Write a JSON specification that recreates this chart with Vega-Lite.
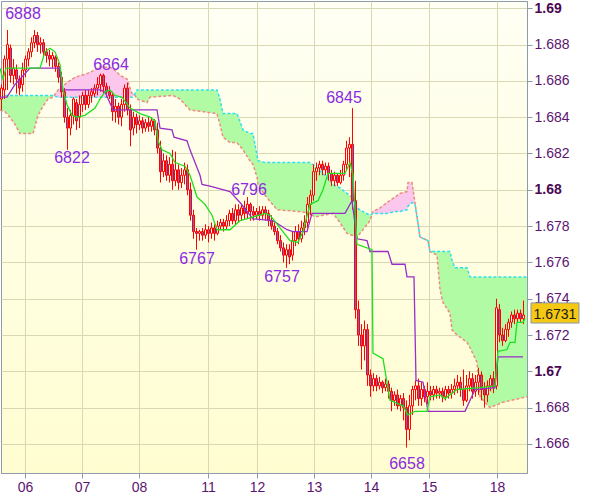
{
"$schema":"https://vega.github.io/schema/vega-lite/v6.json",
"width":526,"height":472,
"autosize":"none",
"padding":{"left":1,"top":1,"right":73,"bottom":24},
"background":"#ffffff",
"config":{
 "view":{"stroke":"#8d9bab","strokeWidth":1,"fill":{"gradient":"linear","x1":0,"y1":0,"x2":0,"y2":1,"stops":[{"offset":0,"color":"#fffff4"},{"offset":1,"color":"#fffdd0"}]}},
 "axis":{"labelFont":"Liberation Sans","labelFontSize":14,"domainColor":"#8d9bab","tickColor":"#8d9bab","tickSize":5,"gridColor":"#d8d8b4","gridWidth":1,"labelOverlap":false,"labelFlush":false}
},
"datasets":{
"candles":[
{"t":0,"o":1.6850,"h":1.6858,"l":1.6844,"c":1.6856},
{"t":1,"o":1.6855,"h":1.6874,"l":1.6850,"c":1.6872},
{"t":2,"o":1.6872,"h":1.6888,"l":1.6855,"c":1.6880},
{"t":3,"o":1.6878,"h":1.6880,"l":1.6859,"c":1.6863},
{"t":4,"o":1.6863,"h":1.6872,"l":1.6858,"c":1.6867},
{"t":5,"o":1.6866,"h":1.6869,"l":1.6853,"c":1.6861},
{"t":6,"o":1.6861,"h":1.6863,"l":1.6852,"c":1.6856},
{"t":7,"o":1.6858,"h":1.6870,"l":1.6854,"c":1.6866},
{"t":8,"o":1.6866,"h":1.6874,"l":1.6862,"c":1.6872},
{"t":9,"o":1.6872,"h":1.6878,"l":1.6868,"c":1.6876},
{"t":10,"o":1.6876,"h":1.6884,"l":1.6873,"c":1.6881},
{"t":11,"o":1.6881,"h":1.6888,"l":1.6878,"c":1.6885},
{"t":12,"o":1.6885,"h":1.6887,"l":1.6876,"c":1.6880},
{"t":13,"o":1.6880,"h":1.6884,"l":1.6875,"c":1.6881},
{"t":14,"o":1.6881,"h":1.6883,"l":1.6873,"c":1.6876},
{"t":15,"o":1.6876,"h":1.6878,"l":1.6870,"c":1.6874},
{"t":16,"o":1.6874,"h":1.6877,"l":1.6868,"c":1.6872},
{"t":17,"o":1.6872,"h":1.6876,"l":1.6867,"c":1.6874},
{"t":18,"o":1.6873,"h":1.6874,"l":1.6865,"c":1.6868},
{"t":19,"o":1.6868,"h":1.6870,"l":1.6859,"c":1.6862},
{"t":20,"o":1.6862,"h":1.6865,"l":1.6851,"c":1.6854},
{"t":21,"o":1.6854,"h":1.6856,"l":1.6837,"c":1.6840},
{"t":22,"o":1.6840,"h":1.6845,"l":1.6822,"c":1.6834},
{"t":23,"o":1.6834,"h":1.6844,"l":1.6830,"c":1.6841},
{"t":24,"o":1.6841,"h":1.6851,"l":1.6836,"c":1.6850},
{"t":25,"o":1.6848,"h":1.6850,"l":1.6833,"c":1.6838},
{"t":26,"o":1.6840,"h":1.6852,"l":1.6834,"c":1.6847},
{"t":27,"o":1.6847,"h":1.6854,"l":1.6843,"c":1.6852},
{"t":28,"o":1.6852,"h":1.6855,"l":1.6844,"c":1.6847},
{"t":29,"o":1.6847,"h":1.6855,"l":1.6845,"c":1.6852},
{"t":30,"o":1.6852,"h":1.6856,"l":1.6848,"c":1.6854},
{"t":31,"o":1.6853,"h":1.6858,"l":1.6851,"c":1.6856},
{"t":32,"o":1.6856,"h":1.6862,"l":1.6852,"c":1.6858},
{"t":33,"o":1.6858,"h":1.6864,"l":1.6854,"c":1.6863},
{"t":34,"o":1.6863,"h":1.6864,"l":1.6853,"c":1.6857},
{"t":35,"o":1.6857,"h":1.6859,"l":1.6851,"c":1.6854},
{"t":36,"o":1.6854,"h":1.6857,"l":1.6850,"c":1.6852},
{"t":37,"o":1.6852,"h":1.6854,"l":1.6838,"c":1.6843},
{"t":38,"o":1.6843,"h":1.6850,"l":1.6837,"c":1.6846},
{"t":39,"o":1.6846,"h":1.6848,"l":1.6836,"c":1.6840},
{"t":40,"o":1.6840,"h":1.6850,"l":1.6835,"c":1.6847},
{"t":41,"o":1.6847,"h":1.6858,"l":1.6843,"c":1.6856},
{"t":42,"o":1.6856,"h":1.6859,"l":1.6841,"c":1.6844},
{"t":43,"o":1.6844,"h":1.6847,"l":1.6824,"c":1.6833},
{"t":44,"o":1.6834,"h":1.6843,"l":1.6830,"c":1.6840},
{"t":45,"o":1.6840,"h":1.6842,"l":1.6831,"c":1.6836},
{"t":46,"o":1.6836,"h":1.6841,"l":1.6833,"c":1.6838},
{"t":47,"o":1.6838,"h":1.6840,"l":1.6831,"c":1.6834},
{"t":48,"o":1.6834,"h":1.6839,"l":1.6832,"c":1.6837},
{"t":49,"o":1.6837,"h":1.6840,"l":1.6832,"c":1.6835},
{"t":50,"o":1.6835,"h":1.6840,"l":1.6832,"c":1.6838},
{"t":51,"o":1.6838,"h":1.6839,"l":1.6830,"c":1.6833},
{"t":52,"o":1.6833,"h":1.6837,"l":1.6820,"c":1.6823},
{"t":53,"o":1.6823,"h":1.6827,"l":1.6804,"c":1.6810},
{"t":54,"o":1.6810,"h":1.6820,"l":1.6807,"c":1.6816},
{"t":55,"o":1.6816,"h":1.6819,"l":1.6805,"c":1.6808},
{"t":56,"o":1.6808,"h":1.6818,"l":1.6804,"c":1.6814},
{"t":57,"o":1.6814,"h":1.6822,"l":1.6800,"c":1.6805},
{"t":58,"o":1.6805,"h":1.6821,"l":1.6802,"c":1.6811},
{"t":59,"o":1.6811,"h":1.6814,"l":1.6800,"c":1.6804},
{"t":60,"o":1.6804,"h":1.6812,"l":1.6801,"c":1.6808},
{"t":61,"o":1.6808,"h":1.6815,"l":1.6803,"c":1.6811},
{"t":62,"o":1.6811,"h":1.6814,"l":1.6797,"c":1.6800},
{"t":63,"o":1.6800,"h":1.6804,"l":1.6783,"c":1.6786},
{"t":64,"o":1.6786,"h":1.6789,"l":1.6773,"c":1.6777},
{"t":65,"o":1.6777,"h":1.6779,"l":1.6767,"c":1.6776},
{"t":66,"o":1.6776,"h":1.6778,"l":1.6772,"c":1.6777},
{"t":67,"o":1.6777,"h":1.6779,"l":1.6772,"c":1.6775},
{"t":68,"o":1.6775,"h":1.6781,"l":1.6773,"c":1.6778},
{"t":69,"o":1.6778,"h":1.6780,"l":1.6771,"c":1.6776},
{"t":70,"o":1.6776,"h":1.6782,"l":1.6773,"c":1.6779},
{"t":71,"o":1.6779,"h":1.6781,"l":1.6772,"c":1.6776},
{"t":72,"o":1.6776,"h":1.6783,"l":1.6775,"c":1.6780},
{"t":73,"o":1.6780,"h":1.6784,"l":1.6778,"c":1.6782},
{"t":74,"o":1.6782,"h":1.6784,"l":1.6777,"c":1.6780},
{"t":75,"o":1.6780,"h":1.6786,"l":1.6778,"c":1.6783},
{"t":76,"o":1.6783,"h":1.6789,"l":1.6780,"c":1.6787},
{"t":77,"o":1.6787,"h":1.6790,"l":1.6781,"c":1.6783},
{"t":78,"o":1.6783,"h":1.6792,"l":1.6781,"c":1.6789},
{"t":79,"o":1.6789,"h":1.6792,"l":1.6782,"c":1.6786},
{"t":80,"o":1.6786,"h":1.6792,"l":1.6783,"c":1.6790},
{"t":81,"o":1.6790,"h":1.6794,"l":1.6784,"c":1.6787},
{"t":82,"o":1.6787,"h":1.6796,"l":1.6784,"c":1.6792},
{"t":83,"o":1.6792,"h":1.6793,"l":1.6783,"c":1.6788},
{"t":84,"o":1.6788,"h":1.6791,"l":1.6783,"c":1.6786},
{"t":85,"o":1.6786,"h":1.6790,"l":1.6784,"c":1.6788},
{"t":86,"o":1.6788,"h":1.6791,"l":1.6783,"c":1.6786},
{"t":87,"o":1.6786,"h":1.6791,"l":1.6784,"c":1.6789},
{"t":88,"o":1.6789,"h":1.6791,"l":1.6783,"c":1.6787},
{"t":89,"o":1.6787,"h":1.6789,"l":1.6780,"c":1.6783},
{"t":90,"o":1.6783,"h":1.6786,"l":1.6778,"c":1.6780},
{"t":91,"o":1.6780,"h":1.6782,"l":1.6775,"c":1.6777},
{"t":92,"o":1.6777,"h":1.6779,"l":1.6770,"c":1.6772},
{"t":93,"o":1.6772,"h":1.6775,"l":1.6766,"c":1.6768},
{"t":94,"o":1.6768,"h":1.6771,"l":1.6760,"c":1.6764},
{"t":95,"o":1.6764,"h":1.6770,"l":1.6757,"c":1.6767},
{"t":96,"o":1.6767,"h":1.6770,"l":1.6759,"c":1.6763},
{"t":97,"o":1.6764,"h":1.6777,"l":1.6761,"c":1.6772},
{"t":98,"o":1.6772,"h":1.6780,"l":1.6769,"c":1.6777},
{"t":99,"o":1.6777,"h":1.6781,"l":1.6770,"c":1.6773},
{"t":100,"o":1.6773,"h":1.6783,"l":1.6771,"c":1.6779},
{"t":101,"o":1.6779,"h":1.6786,"l":1.6775,"c":1.6782},
{"t":102,"o":1.6782,"h":1.6796,"l":1.6779,"c":1.6792},
{"t":103,"o":1.6792,"h":1.6800,"l":1.6786,"c":1.6797},
{"t":104,"o":1.6797,"h":1.6814,"l":1.6794,"c":1.6810},
{"t":105,"o":1.6810,"h":1.6815,"l":1.6805,"c":1.6812},
{"t":106,"o":1.6812,"h":1.6816,"l":1.6808,"c":1.6814},
{"t":107,"o":1.6814,"h":1.6816,"l":1.6808,"c":1.6811},
{"t":108,"o":1.6811,"h":1.6815,"l":1.6808,"c":1.6813},
{"t":109,"o":1.6813,"h":1.6815,"l":1.6805,"c":1.6809},
{"t":110,"o":1.6809,"h":1.6811,"l":1.6802,"c":1.6805},
{"t":111,"o":1.6805,"h":1.6810,"l":1.6802,"c":1.6808},
{"t":112,"o":1.6808,"h":1.6809,"l":1.6802,"c":1.6804},
{"t":113,"o":1.6804,"h":1.6811,"l":1.6803,"c":1.6808},
{"t":114,"o":1.6808,"h":1.6816,"l":1.6805,"c":1.6814},
{"t":115,"o":1.6814,"h":1.6827,"l":1.6811,"c":1.6823},
{"t":116,"o":1.6823,"h":1.6829,"l":1.6807,"c":1.6825},
{"t":117,"o":1.6825,"h":1.6845,"l":1.6789,"c":1.6794},
{"t":118,"o":1.6794,"h":1.6805,"l":1.6729,"c":1.6734},
{"t":119,"o":1.6734,"h":1.6739,"l":1.6714,"c":1.6720},
{"t":120,"o":1.6720,"h":1.6726,"l":1.6701,"c":1.6714},
{"t":121,"o":1.6714,"h":1.6728,"l":1.6706,"c":1.6723},
{"t":122,"o":1.6723,"h":1.6726,"l":1.6692,"c":1.6698},
{"t":123,"o":1.6698,"h":1.6701,"l":1.6686,"c":1.6692},
{"t":124,"o":1.6692,"h":1.6699,"l":1.6689,"c":1.6696},
{"t":125,"o":1.6696,"h":1.6698,"l":1.6689,"c":1.6692},
{"t":126,"o":1.6692,"h":1.6697,"l":1.6690,"c":1.6694},
{"t":127,"o":1.6694,"h":1.6695,"l":1.6688,"c":1.6691},
{"t":128,"o":1.6691,"h":1.6696,"l":1.6689,"c":1.6693},
{"t":129,"o":1.6693,"h":1.6695,"l":1.6685,"c":1.6689},
{"t":130,"o":1.6689,"h":1.6691,"l":1.6678,"c":1.6684},
{"t":131,"o":1.6684,"h":1.6689,"l":1.6681,"c":1.6687},
{"t":132,"o":1.6687,"h":1.6690,"l":1.6679,"c":1.6681},
{"t":133,"o":1.6681,"h":1.6687,"l":1.6678,"c":1.6685},
{"t":134,"o":1.6685,"h":1.6688,"l":1.6673,"c":1.6680},
{"t":135,"o":1.6680,"h":1.6684,"l":1.6658,"c":1.6668},
{"t":136,"o":1.6668,"h":1.6687,"l":1.6662,"c":1.6681},
{"t":137,"o":1.6681,"h":1.6692,"l":1.6676,"c":1.6690},
{"t":138,"o":1.6690,"h":1.6695,"l":1.6684,"c":1.6692},
{"t":139,"o":1.6692,"h":1.6696,"l":1.6681,"c":1.6685},
{"t":140,"o":1.6685,"h":1.6694,"l":1.6681,"c":1.6690},
{"t":141,"o":1.6690,"h":1.6692,"l":1.6683,"c":1.6686},
{"t":142,"o":1.6686,"h":1.6694,"l":1.6682,"c":1.6689},
{"t":143,"o":1.6689,"h":1.6692,"l":1.6684,"c":1.6687},
{"t":144,"o":1.6687,"h":1.6692,"l":1.6684,"c":1.6690},
{"t":145,"o":1.6690,"h":1.6692,"l":1.6685,"c":1.6688},
{"t":146,"o":1.6688,"h":1.6691,"l":1.6685,"c":1.6689},
{"t":147,"o":1.6689,"h":1.6691,"l":1.6683,"c":1.6686},
{"t":148,"o":1.6686,"h":1.6692,"l":1.6684,"c":1.6690},
{"t":149,"o":1.6690,"h":1.6692,"l":1.6685,"c":1.6688},
{"t":150,"o":1.6688,"h":1.6693,"l":1.6685,"c":1.6690},
{"t":151,"o":1.6690,"h":1.6696,"l":1.6687,"c":1.6692},
{"t":152,"o":1.6692,"h":1.6698,"l":1.6688,"c":1.6694},
{"t":153,"o":1.6694,"h":1.6697,"l":1.6686,"c":1.6690},
{"t":154,"o":1.6690,"h":1.6701,"l":1.6681,"c":1.6684},
{"t":155,"o":1.6684,"h":1.6698,"l":1.6683,"c":1.6692},
{"t":156,"o":1.6692,"h":1.6700,"l":1.6689,"c":1.6696},
{"t":157,"o":1.6696,"h":1.6699,"l":1.6685,"c":1.6689},
{"t":158,"o":1.6689,"h":1.6698,"l":1.6686,"c":1.6694},
{"t":159,"o":1.6694,"h":1.6702,"l":1.6687,"c":1.6698},
{"t":160,"o":1.6698,"h":1.6700,"l":1.6684,"c":1.6690},
{"t":161,"o":1.6690,"h":1.6694,"l":1.6680,"c":1.6687},
{"t":162,"o":1.6687,"h":1.6695,"l":1.6683,"c":1.6692},
{"t":163,"o":1.6692,"h":1.6698,"l":1.6689,"c":1.6696},
{"t":164,"o":1.6696,"h":1.6700,"l":1.6688,"c":1.6691},
{"t":165,"o":1.6692,"h":1.6740,"l":1.6690,"c":1.6735},
{"t":166,"o":1.6734,"h":1.6737,"l":1.6716,"c":1.6720},
{"t":167,"o":1.6720,"h":1.6724,"l":1.6714,"c":1.6717},
{"t":168,"o":1.6717,"h":1.6726,"l":1.6716,"c":1.6723},
{"t":169,"o":1.6723,"h":1.6729,"l":1.6719,"c":1.6727},
{"t":170,"o":1.6727,"h":1.6733,"l":1.6724,"c":1.6731},
{"t":171,"o":1.6731,"h":1.6734,"l":1.6726,"c":1.6729},
{"t":172,"o":1.6729,"h":1.6734,"l":1.6727,"c":1.6732},
{"t":173,"o":1.6732,"h":1.6734,"l":1.6727,"c":1.6729},
{"t":174,"o":1.6729,"h":1.6739,"l":1.6726,"c":1.6731}
],
"tenkan":[
{"t":-0.5,"v":1.6867},{"t":0.5,"v":1.6861},{"t":1.5,"v":1.6867},{"t":12.83,"v":1.6867},{"t":14.5,"v":1.6876},{"t":16.17,"v":1.6878},{"t":17.83,"v":1.6876},{"t":19.5,"v":1.6869},{"t":20.5,"v":1.6855},{"t":21.83,"v":1.6847},{"t":23.5,"v":1.6841},{"t":25.17,"v":1.6840},{"t":27.83,"v":1.6841},{"t":31.17,"v":1.6845},{"t":32.83,"v":1.6850},{"t":34.5,"v":1.6854},{"t":36.17,"v":1.6855},{"t":37.83,"v":1.6852},{"t":40.17,"v":1.6851},{"t":42.83,"v":1.6845},{"t":46.17,"v":1.6842},{"t":49.5,"v":1.6840},{"t":51.17,"v":1.6838},{"t":52.17,"v":1.6827},{"t":53.5,"v":1.6822},{"t":56.17,"v":1.6820},{"t":57.83,"v":1.6815},{"t":61.17,"v":1.6813},{"t":62.83,"v":1.6808},{"t":65.17,"v":1.6796},{"t":67.83,"v":1.6792},{"t":70.17,"v":1.6786},{"t":71.83,"v":1.6778},{"t":76.17,"v":1.6778},{"t":79.5,"v":1.6783},{"t":83.83,"v":1.6785},{"t":87.83,"v":1.6787},{"t":89.5,"v":1.6786},{"t":92.83,"v":1.6779},{"t":96.17,"v":1.6772},{"t":98.83,"v":1.6771},{"t":100.5,"v":1.6777},{"t":102.83,"v":1.6792},{"t":105.5,"v":1.6794},{"t":107.17,"v":1.6800},{"t":108.83,"v":1.6809},{"t":114.5,"v":1.6809},{"t":116.17,"v":1.6815},{"t":117.17,"v":1.6808},{"t":118.5,"v":1.6770},{"t":123.5,"v":1.6767},{"t":123.83,"v":1.6710},{"t":127.17,"v":1.6707},{"t":129.5,"v":1.6684},{"t":133.83,"v":1.6681},{"t":135.5,"v":1.6676},{"t":137.83,"v":1.6678},{"t":141.83,"v":1.6678},{"t":142.83,"v":1.6686},{"t":146.17,"v":1.6687},{"t":147.83,"v":1.6685},{"t":151.83,"v":1.6690},{"t":159.5,"v":1.6691},{"t":164.5,"v":1.6692},{"t":165.5,"v":1.6711},{"t":168.5,"v":1.6712},{"t":169.5,"v":1.6716},{"t":171.17,"v":1.6716},{"t":171.83,"v":1.6727},{"t":173.83,"v":1.6727},{"t":174.5,"v":1.6729}
],
"kijun":[
{"t":-0.5,"v":1.6851},{"t":1.83,"v":1.6851},{"t":4.5,"v":1.6858},{"t":9.5,"v":1.6867},{"t":19.5,"v":1.6867},{"t":20.17,"v":1.6855},{"t":32.83,"v":1.6855},{"t":34.5,"v":1.6854},{"t":37.17,"v":1.6844},{"t":51.83,"v":1.6844},{"t":52.83,"v":1.6834},{"t":56.83,"v":1.6833},{"t":57.5,"v":1.6829},{"t":61.83,"v":1.6827},{"t":62.83,"v":1.6822},{"t":64.5,"v":1.6815},{"t":66.17,"v":1.6808},{"t":66.83,"v":1.6803},{"t":69.5,"v":1.6802},{"t":76.17,"v":1.6799},{"t":79.5,"v":1.6793},{"t":83.83,"v":1.6784},{"t":90.5,"v":1.6783},{"t":95.17,"v":1.6778},{"t":97.17,"v":1.6777},{"t":101.83,"v":1.6777},{"t":103.5,"v":1.6787},{"t":114.5,"v":1.6787},{"t":116.83,"v":1.6794},{"t":118.5,"v":1.6773},{"t":121.83,"v":1.6772},{"t":122.83,"v":1.6766},{"t":128.83,"v":1.6766},{"t":130.17,"v":1.6759},{"t":134.5,"v":1.6759},{"t":135.17,"v":1.6752},{"t":137.5,"v":1.6752},{"t":138.17,"v":1.6695},{"t":140.5,"v":1.6694},{"t":142.17,"v":1.6678},{"t":154.5,"v":1.6678},{"t":157.83,"v":1.6690},{"t":164.5,"v":1.6691},{"t":165.5,"v":1.6708},{"t":173.83,"v":1.6708}
],
"cloud":[
{"t":-0.5,"a":1.6844,"b":1.6852},{"t":1.17,"a":1.6843,"b":1.6852},{"t":2.83,"a":1.6840,"b":1.6852},{"t":4.5,"a":1.6836,"b":1.6852},{"t":6.17,"a":1.6831,"b":1.6852},{"t":10.5,"a":1.6831,"b":1.6852},{"t":12.17,"a":1.6841,"b":1.6852},{"t":13.83,"a":1.6846,"b":1.6852},{"t":15.5,"a":1.6850,"b":1.6852},{"t":17.17,"a":1.6851,"b":1.6852},{"t":18.83,"a":1.6855,"b":1.6851},{"t":21.83,"a":1.6859,"b":1.6851},{"t":24.5,"a":1.6862,"b":1.6851},{"t":28.5,"a":1.6864,"b":1.6851},{"t":31.17,"a":1.6866,"b":1.6851},{"t":32.83,"a":1.6868,"b":1.6851},{"t":37.17,"a":1.6867,"b":1.6851},{"t":39.5,"a":1.6863,"b":1.6851},{"t":41.83,"a":1.6861,"b":1.6851},{"t":43.5,"a":1.6853,"b":1.6851},{"t":44.5,"a":1.6852,"b":1.6853},{"t":45.17,"a":1.6850,"b":1.6855},{"t":48.5,"a":1.6848,"b":1.6855},{"t":49.5,"a":1.6851,"b":1.6855},{"t":57.17,"a":1.6852,"b":1.6855},{"t":59.5,"a":1.6850,"b":1.6855},{"t":62.83,"a":1.6844,"b":1.6855},{"t":71.83,"a":1.6842,"b":1.6855},{"t":72.83,"a":1.6836,"b":1.6850},{"t":73.83,"a":1.6829,"b":1.6842},{"t":76.17,"a":1.6826,"b":1.6842},{"t":78.5,"a":1.6826,"b":1.6842},{"t":80.5,"a":1.6822,"b":1.6833},{"t":82.83,"a":1.6816,"b":1.6831},{"t":83.83,"a":1.6814,"b":1.6831},{"t":85.17,"a":1.6807,"b":1.6819},{"t":85.5,"a":1.6803,"b":1.6816},{"t":87.83,"a":1.6797,"b":1.6815},{"t":91.83,"a":1.6789,"b":1.6815},{"t":99.5,"a":1.6788,"b":1.6815},{"t":102.83,"a":1.6787,"b":1.6815},{"t":104.5,"a":1.6785,"b":1.6813},{"t":107.17,"a":1.6786,"b":1.6809},{"t":110.5,"a":1.6787,"b":1.6803},{"t":112.83,"a":1.6782,"b":1.6801},{"t":115.17,"a":1.6776,"b":1.6798},{"t":116.83,"a":1.6775,"b":1.6796},{"t":118.5,"a":1.6774,"b":1.6790},{"t":120.5,"a":1.6778,"b":1.6788},{"t":122.83,"a":1.6783,"b":1.6786},{"t":123.83,"a":1.6788,"b":1.6787},{"t":126.17,"a":1.6790,"b":1.6787},{"t":128.5,"a":1.6793,"b":1.6787},{"t":131.17,"a":1.6796,"b":1.6788},{"t":132.83,"a":1.6798,"b":1.6788},{"t":135.17,"a":1.6799,"b":1.6789},{"t":135.5,"a":1.6804,"b":1.6791},{"t":136.83,"a":1.6804,"b":1.6793},{"t":137.83,"a":1.6793,"b":1.6792},{"t":139.5,"a":1.6774,"b":1.6774},{"t":142.17,"a":1.6772,"b":1.6772},{"t":142.83,"a":1.6766,"b":1.6766},{"t":145.17,"a":1.6764,"b":1.6766},{"t":146.17,"a":1.6745,"b":1.6766},{"t":147.17,"a":1.6738,"b":1.6766},{"t":149.5,"a":1.6732,"b":1.6766},{"t":150.17,"a":1.6723,"b":1.6761},{"t":151.17,"a":1.6721,"b":1.6757},{"t":155.17,"a":1.6716,"b":1.6757},{"t":156.17,"a":1.6713,"b":1.6752},{"t":158.5,"a":1.6705,"b":1.6752},{"t":159.5,"a":1.6686,"b":1.6752},{"t":162.83,"a":1.6680,"b":1.6752},{"t":167.17,"a":1.6683,"b":1.6752},{"t":175.17,"a":1.6686,"b":1.6752}
],
"notes":[
{"t":7.17,"p":1.6897,"label":"6888"},
{"t":36.5,"p":1.6869,"label":"6864"},
{"t":23.5,"p":1.68175,"label":"6822"},
{"t":114.17,"p":1.68506,"label":"6845"},
{"t":82.5,"p":1.6800,"label":"6796"},
{"t":65.17,"p":1.67619,"label":"6767"},
{"t":93.5,"p":1.6752,"label":"6757"},
{"t":135.17,"p":1.66489,"label":"6658"}
],
"last":[{"t":174,"p":1.6731}]
},
"layer":[
{"data":{"name":"cloud"},"mark":{"type":"area","fill":"#b2fba5","opacity":1},
 "encoding":{"x":{"field":"t","type":"quantitative","title":null,"scale":{"domain":[-0.17,175.17],"nice":false,"zero":false,"padding":0},
  "axis":{"title":null,"orient":"bottom","values":[7.83,26.83,45.83,68.83,85.17,104.17,123.17,142.5,165.17],"tickCount":20,
   "labelExpr":"datum.value<15?'06':datum.value<35?'07':datum.value<55?'08':datum.value<75?'11':datum.value<95?'12':datum.value<115?'13':datum.value<135?'14':datum.value<155?'15':'18'",
   "labelColor":"#5c1470","labelPadding":2,"grid":true}},
  "y":{"field":"a","type":"quantitative","title":null,"scale":{"domain":[1.6644,1.6904],"nice":false,"zero":false,"padding":0},
   "axis":{"title":null,"orient":"right","values":[1.666,1.668,1.67,1.672,1.674,1.676,1.678,1.68,1.682,1.684,1.686,1.688,1.69],"tickCount":60,
    "labelExpr":"format(datum.value,'.4~f')",
    "labelFontWeight":{"condition":{"test":"round(datum.value*1000)%10==0","value":"bold"},"value":"normal"},
    "labelColor":{"condition":{"test":"round(datum.value*1000)%10==0","value":"#4a0852"},"value":"#5c1470"},
    "labelPadding":2,"grid":true}},
  "y2":{"field":"b"}}},
{"data":{"name":"cloud"},"transform":[{"filter":"datum.t>=17 && datum.t<=44.6"}],
 "mark":{"type":"area","fill":"#fcc7ec","opacity":1},
 "encoding":{"x":{"field":"t","type":"quantitative","title":null},"y":{"field":"a","type":"quantitative","title":null},"y2":{"field":"b"}}},
{"data":{"name":"cloud"},"transform":[{"filter":"datum.t>=123.8 && datum.t<=137.9"}],
 "mark":{"type":"area","fill":"#fcc7ec","opacity":1},
 "encoding":{"x":{"field":"t","type":"quantitative","title":null},"y":{"field":"a","type":"quantitative","title":null},"y2":{"field":"b"}}},
{"data":{"name":"cloud"},"mark":{"type":"line","stroke":"#f08a80","strokeWidth":1.5,"strokeDash":[3,2]},
 "encoding":{"x":{"field":"t","type":"quantitative","title":null},"y":{"field":"a","type":"quantitative","title":null}}},
{"data":{"name":"cloud"},"mark":{"type":"line","stroke":"#30e0f0","strokeWidth":1.5,"strokeDash":[3,2]},
 "encoding":{"x":{"field":"t","type":"quantitative","title":null},"y":{"field":"b","type":"quantitative","title":null}}},
{"data":{"name":"candles"},"mark":{"type":"rule","stroke":"#ff0000","strokeWidth":1},
 "encoding":{"x":{"field":"t","type":"quantitative","title":null},"y":{"field":"l","type":"quantitative","title":null},"y2":{"field":"h"}}},
{"data":{"name":"candles"},"mark":{"type":"bar","width":2,"stroke":"#ff0000","strokeWidth":1},
 "encoding":{"x":{"field":"t","type":"quantitative","title":null},"y":{"field":"o","type":"quantitative","title":null},"y2":{"field":"c"},
  "fill":{"condition":{"test":"datum.c < datum.o","value":"#7a64c0"},"value":"#fffce6"}}},
{"data":{"name":"kijun"},"mark":{"type":"line","stroke":"#9a2dc8","strokeWidth":1.3},
 "encoding":{"x":{"field":"t","type":"quantitative","title":null},"y":{"field":"v","type":"quantitative","title":null}}},
{"data":{"name":"tenkan"},"mark":{"type":"line","stroke":"#1ee01e","strokeWidth":1.3},
 "encoding":{"x":{"field":"t","type":"quantitative","title":null},"y":{"field":"v","type":"quantitative","title":null}}},
{"data":{"name":"notes"},"mark":{"type":"text","font":"Liberation Sans","fontSize":16,"color":"#8a2be2","align":"center","baseline":"middle"},
 "encoding":{"x":{"field":"t","type":"quantitative","title":null},"y":{"field":"p","type":"quantitative","title":null},"text":{"field":"label"}}},
{"data":{"name":"last"},"mark":{"type":"bar","width":48,"xOffset":31.5,"fill":"#f5c813","stroke":"#8a98a6","strokeWidth":1,"clip":false},
 "encoding":{"x":{"field":"t","type":"quantitative","title":null},"y":{"datum":1.67377,"type":"quantitative"},"y2":{"datum":1.67266}}},
{"data":{"name":"last"},"mark":{"type":"text","font":"Liberation Sans","fontSize":14,"color":"#1a1a1a","align":"center","baseline":"middle","dx":31.5,"clip":false},
 "encoding":{"x":{"field":"t","type":"quantitative","title":null},"y":{"field":"p","type":"quantitative","title":null},"text":{"field":"p","format":".4f"}}}
]
}
